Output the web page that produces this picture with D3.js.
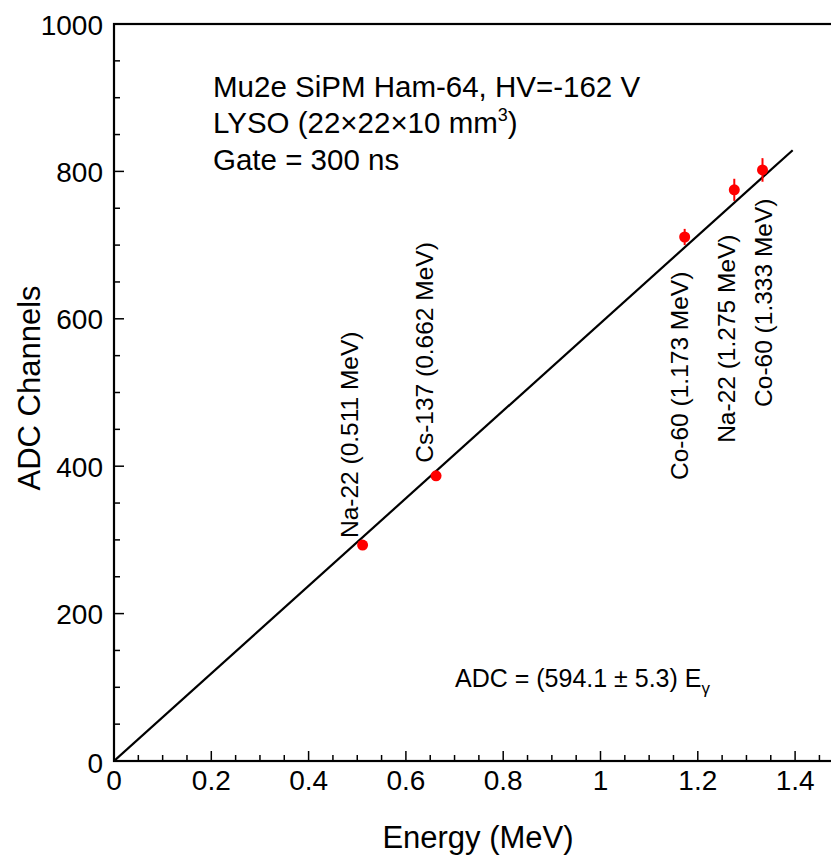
<!DOCTYPE html>
<html>
<head>
<meta charset="utf-8">
<script src="https://cdn.jsdelivr.net/npm/d3@7"></script>
<style>
  body { margin: 0; background: #fff; }
  svg { display: block; font-family: "Liberation Sans", Arial, sans-serif; }
</style>
</head>
<body>
<div id="chart"></div>
<script>
// data
var sources  = ["Na-22", "Cs-137", "Co-60", "Na-22", "Co-60"];
var energies = [0.511, 0.662, 1.173, 1.275, 1.333];
var adc      = [293, 387, 711, 775, 802];
var adcErr   = [4, 4, 11, 15, 16];
var slope = 594.1, slopeErr = 5.3;
var fitRange = [0, 1.395];
var xTicks = [0, 0.2, 0.4, 0.6, 0.8, 1, 1.2, 1.4];
var yTicks = [0, 200, 400, 600, 800, 1000];
var infoLines = ["Mu2e SiPM Ham-64, HV=-162 V", "LYSO (22\u00d722\u00d710 mm", "Gate = 300 ns"];

var W = 831, H = 857;
var margin = {left: 114, top: 24, bottom: 96};

var svg = d3.select("#chart").append("svg")
	.attr("width", W).attr("height", H);

// x range runs past the right edge like the original, which is cropped
var x = d3.scaleLinear().domain([0, 1.5]).range([margin.left, margin.left + 1.5 * 486.5]);
var y = d3.scaleLinear().domain([0, 1000]).range([H - margin.bottom, margin.top]);
var x0 = x(0), y0 = y(0);

svg.append("defs").append("clipPath").attr("id", "plotclip")
	.append("rect").attr("x", x0).attr("y", y(1000)).attr("width", W - x0).attr("height", y0 - y(1000));

// frame
svg.append("rect")
	.attr("x", x0).attr("y", y(1000))
	.attr("width", x(1.5) - x0).attr("height", y0 - y(1000))
	.attr("fill", "none").attr("stroke", "#000").attr("stroke-width", 2.2);

function isMajor(list, d){
	return list.some(function(t){ return Math.abs(t - d) < 1e-6; });
}

// x axis ticks (inside)
var xMinor = d3.range(0, 1.501, 0.05);
svg.append("g").selectAll("line").data(xMinor).enter().append("line")
	.attr("x1", function(d){ return x(d); }).attr("x2", function(d){ return x(d); })
	.attr("y1", y0).attr("y2", function(d){ return isMajor(xTicks, d) ? y0 - 10 : y0 - 6; })
	.attr("stroke", "#000").attr("stroke-width", 1.5);
svg.append("g").selectAll("text").data(xTicks).enter().append("text")
	.attr("x", function(d){ return x(d); }).attr("y", y0 + 29)
	.attr("text-anchor", "middle").attr("font-size", 28)
	.text(function(d){ return d; });

// y axis ticks (inside)
var yMinor = d3.range(0, 1001, 50);
svg.append("g").selectAll("line").data(yMinor).enter().append("line")
	.attr("x1", x0).attr("x2", function(d){ return isMajor(yTicks, d) ? x0 + 10 : x0 + 6; })
	.attr("y1", function(d){ return y(d); }).attr("y2", function(d){ return y(d); })
	.attr("stroke", "#000").attr("stroke-width", 1.5);
svg.append("g").selectAll("text").data(yTicks).enter().append("text")
	.attr("x", x0 - 11)
	.attr("y", function(d){ return d === 0 ? y(d) + 12 : y(d) + 10.5; })
	.attr("text-anchor", "end").attr("font-size", 28)
	.text(function(d){ return d; });

// axis titles
svg.append("text").attr("x", 478).attr("y", 848)
	.attr("text-anchor", "middle").attr("font-size", 31).text("Energy (MeV)");
svg.append("text").attr("transform", "translate(40,388) rotate(-90)")
	.attr("text-anchor", "middle").attr("font-size", 31).text("ADC Channels");

var plot = svg.append("g").attr("clip-path", "url(#plotclip)");

// fit line
plot.append("line")
	.attr("x1", x(fitRange[0])).attr("y1", y(slope * fitRange[0]))
	.attr("x2", x(fitRange[1])).attr("y2", y(slope * fitRange[1]))
	.attr("stroke", "#000").attr("stroke-width", 2.2);

var pts = energies.map(function(e, i){ return {e: e, a: adc[i], err: adcErr[i], src: sources[i]}; });

// error bars + points
plot.selectAll(".err").data(pts).enter().append("line")
	.attr("class", "err")
	.attr("x1", function(d){ return x(d.e); }).attr("x2", function(d){ return x(d.e); })
	.attr("y1", function(d){ return y(d.a - d.err); }).attr("y2", function(d){ return y(d.a + d.err); })
	.attr("stroke", "#ff0000").attr("stroke-width", 2);
plot.selectAll(".pt").data(pts).enter().append("circle")
	.attr("class", "pt")
	.attr("cx", function(d){ return x(d.e); }).attr("cy", function(d){ return y(d.a); })
	.attr("r", 5.5).attr("fill", "#ff0000");

// vertical source labels: [dx of baseline from point, dy of text start from point]
var labelOffset = [[-5, -7], [-3, -13], [3, 243], [1, 253], [9, 237]];
svg.selectAll(".lbl").data(pts).enter().append("text")
	.attr("class", "lbl")
	.attr("transform", function(d, i){
		var lx = x(d.e) + labelOffset[i][0], ly = y(d.a) + labelOffset[i][1];
		return "translate(" + lx + "," + ly + ") rotate(-90)";
	})
	.attr("font-size", 24.5)
	.text(function(d){ return d.src + " (" + d3.format(".3f")(d.e) + " MeV)"; });

// info text
var info = svg.append("g").attr("font-size", 29.5);
info.append("text").attr("x", 213).attr("y", 97).text(infoLines[0]);
var l2 = info.append("text").attr("x", 213).attr("y", 133).text(infoLines[1]);
l2.append("tspan").attr("font-size", 18).attr("dy", -12).text("3");
l2.append("tspan").attr("dy", 12).text(")");
info.append("text").attr("x", 213).attr("y", 170).text(infoLines[2]);

// fit formula
var f = svg.append("text").attr("x", 455).attr("y", 687).attr("font-size", 25)
	.text("ADC = (" + slope + " \u00b1 " + slopeErr + ") E");
f.append("tspan").attr("font-size", 17).attr("dy", 7).text("\u03b3");
</script>
</body>
</html>
